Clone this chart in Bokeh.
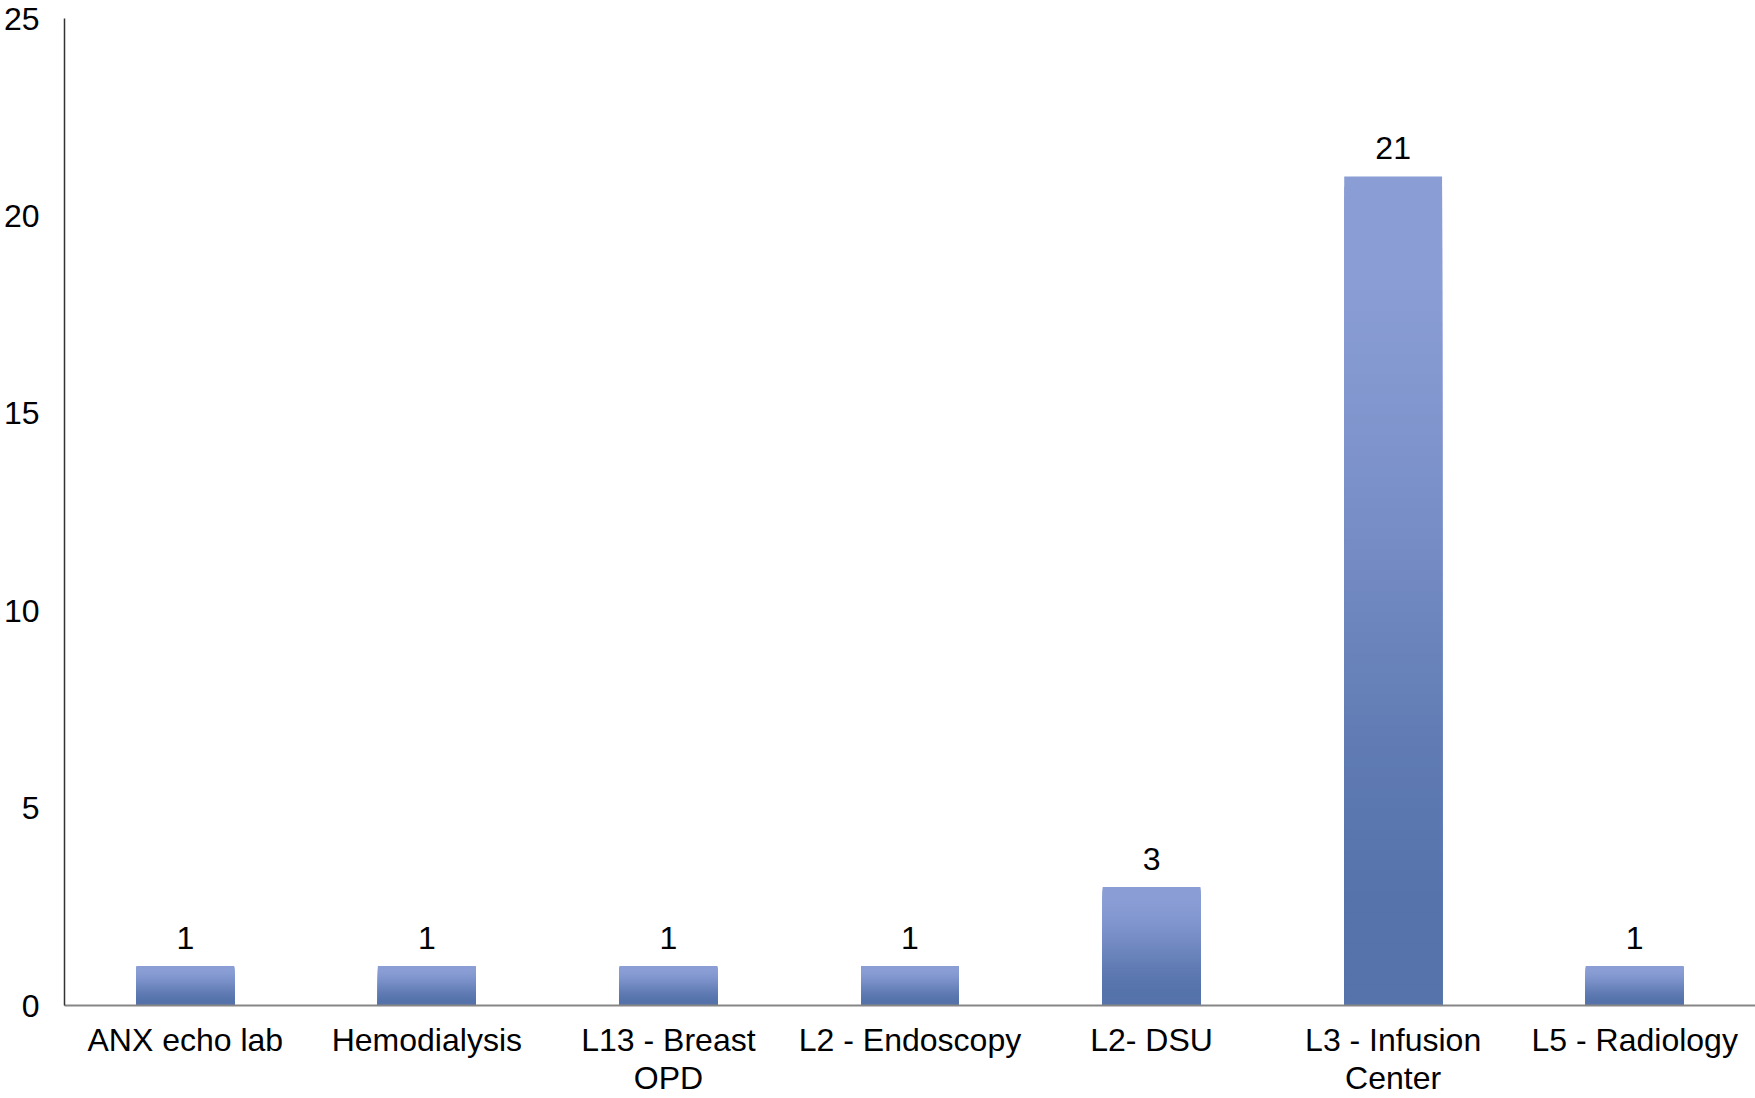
from bokeh.plotting import figure
from bokeh.models import ColumnDataSource, FactorRange, Range1d, SingleIntervalTicker
from bokeh.embed import file_html
from bokeh.resources import INLINE
from bokeh.core.properties import value

categories = ["ANX echo lab", "Hemodialysis", "L13 - Breast\nOPD", "L2 - Endoscopy",
              "L2- DSU", "L3 - Infusion\nCenter", "L5 - Radiology"]
counts = [1, 1, 1, 1, 3, 21, 1]
y_ticks = [0, 5, 10, 15, 20, 25]

FONT = "Liberation Sans"
FS = "32px"
TOP_RGB = (0x8A, 0x9D, 0xD5)
BOT_RGB = (0x56, 0x73, 0xAB)


def grad_color(t):
    # t: 0 at bar top, 1 at bar bottom
    a, b = 0.12, 0.88
    s = min(max((t - a) / (b - a), 0.0), 1.0)
    s = 0.5 * s + 0.5 * s * s * (3 - 2 * s)
    r, g, bl = (int(round(c0 + (c1 - c0) * s)) for c0, c1 in zip(TOP_RGB, BOT_RGB))
    return "#%02x%02x%02x" % (r, g, bl)


# gradient: stacked rectangles all starting at 0, drawn tallest (lightest) first
N = 80
xs, tops, colors = [], [], []
for k in range(N - 1, -1, -1):
    for cat, v in zip(categories, counts):
        xs.append(cat)
        tops.append(v * (k + 1) / N)
        colors.append(grad_color(1 - (k + 0.5) / N))

slices = ColumnDataSource(dict(x=xs, top=tops, color=colors))
labels = ColumnDataSource(dict(x=categories, y=counts, t=[str(c) for c in counts]))

p = figure(x_range=FactorRange(*categories, range_padding=0),
           y_range=Range1d(0, 25),
           width=1755, height=1098,
           output_backend="svg", toolbar_location=None,
           min_border_left=64, min_border_right=0,
           min_border_top=18, min_border_bottom=90)

p.vbar(x="x", bottom=0, top="top", width=0.405, color="color",
       line_color=None, source=slices)

p.text(x="x", y="y", text="t", source=labels, text_align="center",
       text_baseline="alphabetic", y_offset=-28,
       text_font=value(FONT), text_font_size=FS, text_color="#000000")

p.outline_line_color = None
p.xgrid.grid_line_color = None
p.ygrid.grid_line_color = None
p.background_fill_color = "white"
p.border_fill_color = "white"

p.yaxis.ticker = SingleIntervalTicker(interval=5)
p.yaxis.axis_line_color = "#333333"
p.yaxis.axis_line_width = 1.5
p.yaxis.major_tick_line_color = None
p.yaxis.minor_tick_line_color = None
p.yaxis.major_tick_out = 0
p.yaxis.major_tick_in = 0
p.yaxis.major_label_standoff = 21
p.yaxis.major_label_text_font = FONT
p.yaxis.major_label_text_font_size = FS
p.yaxis.major_label_text_color = "#000000"

p.xaxis.axis_line_color = "#868686"
p.xaxis.axis_line_width = 2
p.xaxis.major_tick_line_color = None
p.xaxis.minor_tick_line_color = None
p.xaxis.major_tick_out = 0
p.xaxis.major_tick_in = 0
p.xaxis.major_label_standoff = 16
p.xaxis.major_label_text_font = FONT
p.xaxis.major_label_text_font_size = FS
p.xaxis.major_label_text_color = "#000000"
p.xaxis.major_label_text_line_height = 1.06

open("out.html", "w").write(file_html(p, INLINE))
